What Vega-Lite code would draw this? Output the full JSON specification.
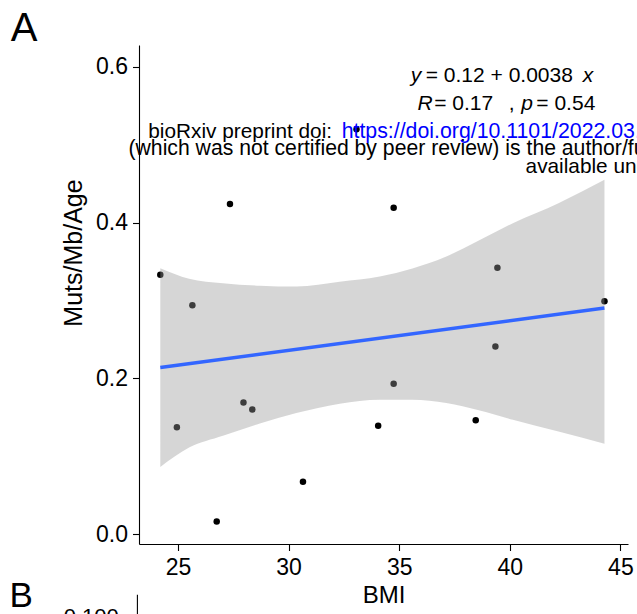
{
  "$schema": "https://vega.github.io/schema/vega-lite/v6.json",
  "width": 489,
  "height": 499,
  "autosize": "none",
  "padding": {"left": 139, "top": 45, "right": 9, "bottom": 70},
  "background": "white",
  "config": {
    "view": {"stroke": null},
    "font": "Liberation Sans",
    "axis": {
      "grid": false,
      "domainColor": "#000000",
      "domainWidth": 1.1,
      "tickColor": "#000000",
      "tickWidth": 1.1,
      "tickSize": 6.5,
      "labelFont": "Liberation Sans",
      "labelFontSize": 23,
      "labelColor": "#000000",
      "titleFont": "Liberation Sans",
      "titleFontSize": 24,
      "titleFontWeight": "normal",
      "titleColor": "#000000"
    }
  },
  "encoding": {
    "x": {
      "field": "BMI",
      "type": "quantitative",
      "title": "BMI",
      "scale": {"domain": [23.237, 45.344], "nice": false, "zero": false},
      "axis": {"values": [25, 30, 35, 40, 45], "labelPadding": 6, "titlePadding": 4}
    },
    "y": {
      "field": "MutsMbAge",
      "type": "quantitative",
      "title": "Muts/Mb/Age",
      "scale": {"domain": [-0.01284, 0.6282], "nice": false, "zero": false},
      "axis": {"values": [0, 0.2, 0.4, 0.6], "format": ".1f", "labelPadding": 5, "titlePadding": 9, "titleFontSize": 25, "titleY": 207.5}
    }
  },
  "layer": [
    {
      "data": {"values": [
        {"BMI": 24.2, "MutsMbAge": 0.333},
        {"BMI": 25.65, "MutsMbAge": 0.294},
        {"BMI": 27.35, "MutsMbAge": 0.424},
        {"BMI": 24.95, "MutsMbAge": 0.137},
        {"BMI": 27.96, "MutsMbAge": 0.169},
        {"BMI": 28.36, "MutsMbAge": 0.16},
        {"BMI": 26.75, "MutsMbAge": 0.016},
        {"BMI": 30.65, "MutsMbAge": 0.067},
        {"BMI": 33.07, "MutsMbAge": 0.52},
        {"BMI": 34.75, "MutsMbAge": 0.419},
        {"BMI": 34.75, "MutsMbAge": 0.193},
        {"BMI": 34.05, "MutsMbAge": 0.139},
        {"BMI": 38.46, "MutsMbAge": 0.146},
        {"BMI": 39.44, "MutsMbAge": 0.342},
        {"BMI": 39.35, "MutsMbAge": 0.241},
        {"BMI": 44.28, "MutsMbAge": 0.299}
      ]},
      "mark": {"type": "circle", "size": 42, "color": "#000000", "opacity": 1}
    },
    {
      "data": {"values": [
        {"BMI": 24.2, "lo": 0.086, "hi": 0.3415},
        {"BMI": 25.5, "lo": 0.111, "hi": 0.328},
        {"BMI": 27.03, "lo": 0.1262, "hi": 0.3222},
        {"BMI": 28.7, "lo": 0.142, "hi": 0.319},
        {"BMI": 30.35, "lo": 0.1553, "hi": 0.3179},
        {"BMI": 32.31, "lo": 0.1673, "hi": 0.324},
        {"BMI": 34.12, "lo": 0.1724, "hi": 0.3307},
        {"BMI": 35.6, "lo": 0.1725, "hi": 0.341},
        {"BMI": 37.13, "lo": 0.1682, "hi": 0.3564},
        {"BMI": 38.6, "lo": 0.159, "hi": 0.377},
        {"BMI": 40.14, "lo": 0.1467, "hi": 0.3993},
        {"BMI": 42.2, "lo": 0.1317, "hi": 0.425},
        {"BMI": 44.28, "lo": 0.116, "hi": 0.455}
      ]},
      "mark": {"type": "area", "color": "#999999", "opacity": 0.4, "interpolate": "monotone"},
      "encoding": {
        "y": {"field": "lo", "type": "quantitative", "title": "Muts/Mb/Age"},
        "y2": {"field": "hi"}
      }
    },
    {
      "data": {"values": [
        {"BMI": 24.2, "MutsMbAge": 0.2139},
        {"BMI": 44.28, "MutsMbAge": 0.2902}
      ]},
      "mark": {"type": "line", "color": "#3366FF", "strokeWidth": 3.5}
    },
    {
      "data": {"values": [
        {"BMI": 23.657, "MutsMbAge": 0.5089, "label": "bioRxiv preprint doi:"},
        {"BMI": 40.714, "MutsMbAge": 0.4639, "label": "available under"}
      ]},
      "mark": {"type": "text", "align": "left", "baseline": "alphabetic", "fontSize": 20.8, "color": "#000000", "font": "Liberation Sans"},
      "encoding": {"text": {"field": "label"}}
    },
    {
      "data": {"values": [
        {"BMI": 22.762, "MutsMbAge": 0.487, "label": "(which was not certified by peer review) is the author/funder, who has granted bioRxiv a license"}
      ]},
      "mark": {"type": "text", "align": "left", "baseline": "alphabetic", "fontSize": 21.2, "color": "#000000", "font": "Liberation Sans"},
      "encoding": {"text": {"field": "label"}}
    },
    {
      "data": {"values": [
        {"BMI": 36.2, "MutsMbAge": 0.5811, "label": "= 0.12 + 0.0038"},
        {"BMI": 36.58, "MutsMbAge": 0.5448, "label": "= 0.17"},
        {"BMI": 39.95, "MutsMbAge": 0.5448, "label": ","},
        {"BMI": 41.2, "MutsMbAge": 0.5448, "label": "= 0.54"}
      ]},
      "mark": {"type": "text", "align": "left", "baseline": "alphabetic", "fontSize": 21, "color": "#000000", "font": "Liberation Sans"},
      "encoding": {"text": {"field": "label"}}
    },
    {
      "data": {"values": [
        {"BMI": 35.52, "MutsMbAge": 0.5811, "label": "y"},
        {"BMI": 43.296, "MutsMbAge": 0.5811, "label": "x"},
        {"BMI": 35.83, "MutsMbAge": 0.5448, "label": "R"},
        {"BMI": 40.515, "MutsMbAge": 0.5448, "label": "p"}
      ]},
      "mark": {"type": "text", "align": "left", "baseline": "alphabetic", "fontSize": 21, "fontStyle": "italic", "color": "#000000", "font": "Liberation Sans"},
      "encoding": {"text": {"field": "label"}}
    },
    {
      "data": {"values": [
        {"BMI": 32.4, "MutsMbAge": 0.5089, "label": "https://doi.org/10.1101/2022.03."}
      ]},
      "mark": {"type": "text", "align": "left", "baseline": "alphabetic", "fontSize": 21.3, "color": "#0000FF", "font": "Liberation Sans"},
      "encoding": {"text": {"field": "label"}}
    },
    {
      "data": {"values": [
        {"BMI": 17.437, "MutsMbAge": 0.6338, "label": "A"}
      ]},
      "mark": {"type": "text", "align": "left", "baseline": "alphabetic", "fontSize": 40, "color": "#000000", "font": "Liberation Sans"},
      "encoding": {"text": {"field": "label"}}
    },
    {
      "data": {"values": [
        {"BMI": 17.383, "MutsMbAge": -0.0942, "label": "B"}
      ]},
      "mark": {"type": "text", "align": "left", "baseline": "alphabetic", "fontSize": 35, "color": "#000000", "font": "Liberation Sans"},
      "encoding": {"text": {"field": "label"}}
    },
    {
      "data": {"values": [
        {"BMI": 19.833, "MutsMbAge": -0.1162, "label": "0.100"}
      ]},
      "mark": {"type": "text", "align": "left", "baseline": "alphabetic", "fontSize": 22, "color": "#000000", "font": "Liberation Sans"},
      "encoding": {"text": {"field": "label"}}
    },
    {
      "data": {"values": [
        {"BMI": 23.165, "MutsMbAge": -0.0779, "end": -0.15}
      ]},
      "mark": {"type": "rule", "color": "#000000", "strokeWidth": 1.1},
      "encoding": {"y2": {"field": "end"}}
    }
  ]
}
